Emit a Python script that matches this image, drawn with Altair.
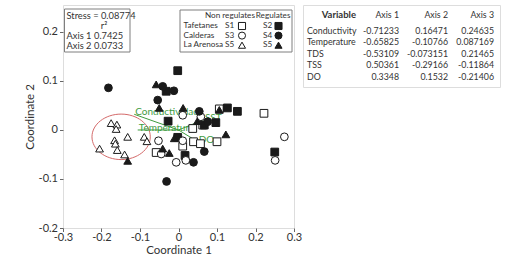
import altair as alt
import pandas as pd

# ---------------- data ----------------
sites = ["S1", "S2", "S3", "S4", "S5", "S6"]
site_shapes = ["square", "square", "circle", "circle", "triangle-up", "triangle-up"]
site_fills = ["#ffffff", "#1a1a1a", "#ffffff", "#1a1a1a", "#ffffff", "#1a1a1a"]

s1_x = [0.222, 0.037, 0.063, 0.039, 0.057, 0.100, 0.011, -0.058, 0.106]
s1_y = [0.034, 0.003, 0.010, -0.024, -0.028, -0.024, -0.033, -0.046, 0.043]
s2_x = [-0.002, -0.032, -0.027, 0.067, 0.097, 0.127, 0.153, -0.002, 0.017, 0.250]
s2_y = [0.121, 0.079, 0.018, 0.010, 0.015, 0.045, 0.038, -0.015, -0.052, -0.045]
s3_x = [0.011, 0.058, -0.052, -0.045, -0.006, 0.011, 0.019, 0.251, 0.275]
s3_y = [0.030, 0.027, -0.022, -0.049, -0.066, -0.022, -0.062, -0.062, -0.014]
s4_x = [-0.182, -0.041, -0.012, -0.054, 0.054, 0.076, 0.067, 0.039, -0.031]
s4_y = [0.086, 0.089, 0.080, 0.061, 0.038, 0.017, -0.044, -0.066, -0.105]
s5_x = [-0.175, -0.160, -0.162, -0.132, -0.166, -0.164, -0.089, -0.082, -0.205, -0.159, -0.140]
s5_y = [0.014, 0.011, 0.002, -0.014, -0.021, -0.028, -0.014, -0.023, -0.038, -0.041, -0.050]
s6_x = [-0.058, -0.050, 0.012, 0.049, 0.106, 0.123, -0.041, -0.024, -0.011, -0.132]
s6_y = [0.093, 0.045, 0.045, 0.018, 0.041, -0.009, -0.038, -0.047, -0.017, -0.063]

vec_labels = ["Conductividad", "Temperature", "SST", "DO"]
vec_x = [-0.115, -0.106, 0.066, 0.050]
vec_y = [0.032, 0.000, 0.021, -0.024]

ellipse_cx = [-0.149]
ellipse_cy = [-0.014]

table_vars = ["Conductivity", "Temperature", "TDS", "TSS", "DO"]
table_axis1 = ["-0.71233", "-0.65825", "-0.53109", "0.50361", "0.3348"]
table_axis2 = ["0.16471", "-0.10766", "-0.073151", "-0.29166", "0.1532"]
table_axis3 = ["0.24635", "0.087169", "0.21465", "-0.11864", "-0.21406"]

stress_text = "Stress = 0.08774"
r2_axis = ["Axis 1", "Axis 2"]
r2_vals = ["0.7425", "0.0733"]

leg_names = ["Tafetanes", "Calderas", "La Arenosa"]
leg_nonreg = ["S1", "S3", "S5"]
leg_reg = ["S2", "S4", "S5"]

# ---------------- frames ----------------
rows = []
for code, xs_, ys_ in zip(sites, [s1_x, s2_x, s3_x, s4_x, s5_x, s6_x],
                          [s1_y, s2_y, s3_y, s4_y, s5_y, s6_y]):
    for a, b in zip(xs_, ys_):
        rows.append({"site": code, "x": a, "y": b})
pts_df = pd.DataFrame(rows)
vec_df = pd.DataFrame({"label": vec_labels, "x": [0.0] * 4, "y": [0.0] * 4,
                       "x2": vec_x, "y2": vec_y})
ell_df = pd.DataFrame({"x": ellipse_cx, "y": ellipse_cy})

FONT = "Lato"
TXT = "#333333"
W, H = 231, 223

xscale = alt.Scale(domain=[-0.3, 0.3], nice=False, zero=False)
yscale = alt.Scale(domain=[-0.2, 0.255], nice=False, zero=False)
lab = "datum.value < 0 ? '-' + format(-datum.value, '.1~f') : format(datum.value, '.1~f')"
common_axis = dict(grid=False, domain=False, tickColor="#666666", tickSize=3.5,
                   labelFont=FONT, labelFontSize=11, labelColor=TXT, labelExpr=lab,
                   labelOverlap=False, labelFlush=False,
                   titleFont=FONT, titleFontSize=11.5, titleFontWeight="normal",
                   titleColor=TXT)
xaxis = alt.Axis(values=[-0.3, -0.2, -0.1, 0.0, 0.1, 0.2, 0.3], title="Coordinate 1",
                 titlePadding=2, labelPadding=0, **common_axis)
yaxis = alt.Axis(values=[-0.2, -0.1, 0.0, 0.1, 0.2], title="Coordinate 2",
                 titlePadding=3, labelPadding=2, **common_axis)

X = lambda f: alt.X(f, scale=xscale, axis=xaxis)
Y = lambda f: alt.Y(f, scale=yscale, axis=yaxis)

shape_enc = alt.Shape("site:N", scale=alt.Scale(domain=sites, range=site_shapes), legend=None)
fill_enc = alt.Fill("site:N", scale=alt.Scale(domain=sites, range=site_fills), legend=None)

base_pts = alt.Chart(pts_df).mark_point(filled=True, size=60, stroke="#1a1a1a",
                                        strokeWidth=1, opacity=1, fillOpacity=1).encode(
    x=X("x:Q"), y=Y("y:Q"), shape=shape_enc, fill=fill_enc)

ell_path = "M -1 0 A 1 0.78 0 1 1 1 0 A 1 0.78 0 1 1 -1 0 Z"
ellipse = alt.Chart(ell_df).mark_point(shape=ell_path, size=3400, filled=False,
                                       stroke="#d46a6a", strokeWidth=1, opacity=1).encode(
    x=X("x:Q"), y=Y("y:Q"))

vectors = alt.Chart(vec_df).mark_rule(color="#3f9c3f", strokeWidth=1).encode(
    x=X("x:Q"), y=Y("y:Q"), x2="x2:Q", y2="y2:Q")

vec_text = alt.Chart(vec_df).mark_text(align="left", baseline="middle", dx=1, dy=-2,
                                       font=FONT, fontSize=10, color="#3f9c3f").encode(
    x=X("x2:Q"), y=Y("y2:Q"), text="label:N")

# annotation boxes (pixel layout inside the plot)
box_specs = [(1.5, 67, 4, 47), (117, 229, 5, 47)]
box_layers = []
for bx, bx2, by, by2 in box_specs:
    box_layers.append(alt.Chart(pts_df.iloc[[0]]).mark_rect(
        fill="white", stroke="#7f7f7f", strokeWidth=1).encode(
        x=alt.value(bx), x2=alt.value(bx2), y=alt.value(by), y2=alt.value(by2)))

ann = []
ann.append({"t": stress_text, "px": 3.5, "py": 11, "al": "left", "fs": 9.3})
ann.append({"t": "r²", "px": 41, "py": 20.5, "al": "center", "fs": 9.3})
for i, (a, v) in enumerate(zip(r2_axis, r2_vals)):
    ann.append({"t": a, "px": 3.5, "py": 31 + 9.5 * i, "al": "left", "fs": 9.3})
    ann.append({"t": v, "px": 31, "py": 31 + 9.5 * i, "al": "left", "fs": 9.3})
ann.append({"t": "Non regulates", "px": 192, "py": 11, "al": "right", "fs": 8.2})
ann.append({"t": "Regulates", "px": 227.5, "py": 11, "al": "right", "fs": 8.2})
for i, (n, a, b) in enumerate(zip(leg_names, leg_nonreg, leg_reg)):
    ann.append({"t": n, "px": 120.5, "py": 21 + 9.6 * i, "al": "left", "fs": 8.2})
    ann.append({"t": a, "px": 162, "py": 21 + 9.6 * i, "al": "left", "fs": 8.2})
    ann.append({"t": b, "px": 200, "py": 21 + 9.6 * i, "al": "left", "fs": 8.2})
ann_layers = []
for a in ann:
    ann_layers.append(alt.Chart(pts_df.iloc[[0]]).mark_text(
        align=a["al"], baseline="middle", font=FONT, fontSize=a["fs"], color=TXT,
        text=a["t"]).encode(x=alt.value(a["px"]), y=alt.value(a["py"])))

sym_pos = {"S1": (179, 21), "S3": (179, 30.6), "S5": (179, 40.2),
           "S2": (215.5, 21), "S4": (215.5, 30.6), "S6": (215.5, 40.2)}
sym_layers = []
for code, (px, py) in sym_pos.items():
    k = sites.index(code)
    sym_layers.append(alt.Chart(pts_df.iloc[[0]]).mark_point(
        filled=True, size=50, stroke="#1a1a1a", strokeWidth=1, opacity=1, fillOpacity=1,
        shape=site_shapes[k], fill=site_fills[k]).encode(
        x=alt.value(px), y=alt.value(py)))

scatter = alt.layer(ellipse, vectors, vec_text, base_pts, *box_layers, *ann_layers,
                    *sym_layers).properties(width=W, height=H)

# ---------------- table ----------------
col_right = {"Axis 1": 96, "Axis 2": 145, "Axis 3": 191}
row_y = [10, 25.5, 37, 48.5, 60, 71.5]
trows = []
trows.append({"t": "Variable", "px": 53, "py": row_y[0], "kind": "head"})
for c in ["Axis 1", "Axis 2", "Axis 3"]:
    trows.append({"t": c, "px": col_right[c], "py": row_y[0], "kind": "num"})
for i, v in enumerate(table_vars):
    trows.append({"t": v, "px": 4, "py": row_y[i + 1], "kind": "name"})
    for c, arr in zip(["Axis 1", "Axis 2", "Axis 3"], [table_axis1, table_axis2, table_axis3]):
        trows.append({"t": arr[i], "px": col_right[c], "py": row_y[i + 1], "kind": "num"})
tdf = pd.DataFrame(trows)

def tlayer(kind, align, weight, fs):
    return alt.Chart(tdf[tdf["kind"] == kind]).mark_text(
        align=align, baseline="middle", font=FONT, fontSize=fs, color=TXT,
        fontWeight=weight).encode(
        x=alt.X("px:Q", scale=None, axis=None),
        y=alt.Y("py:Q", scale=None, axis=None),
        text="t:N")

table = alt.layer(tlayer("head", "right", "bold", 9.5), tlayer("name", "left", "normal", 8.8),
                  tlayer("num", "right", "normal", 8.8)).properties(width=197, height=82)

chart = alt.hconcat(scatter, table, spacing=-5).properties(
    padding={"left": 23, "top": 4, "right": 5, "bottom": 5}
).configure_view(stroke="#7f7f7f", strokeWidth=1).configure(font=FONT, background="white")

chart.save("out.html", embed_options={"renderer": "svg", "actions": False})
